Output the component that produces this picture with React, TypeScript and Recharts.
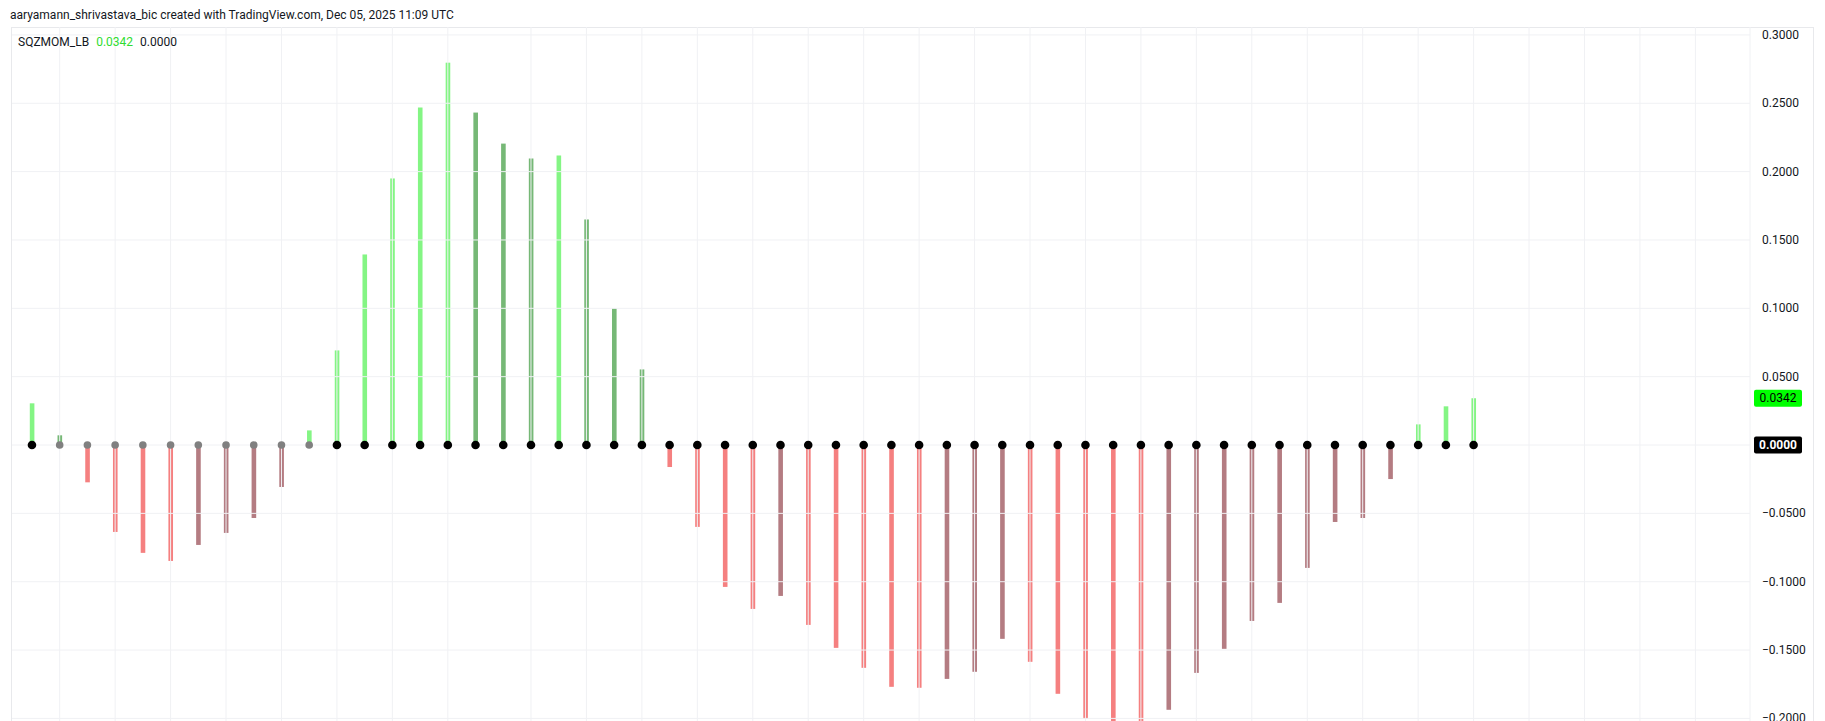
import React from "react";
import { ComposedChart, Bar, Line, XAxis, YAxis, ReferenceLine } from "recharts";

// ---- data ----
const momentum: number[] = [
  0.0305, 0.0071, -0.0273, -0.0636, -0.0789, -0.0848, -0.0731, -0.0643, -0.0534, -0.0307,
  0.0107, 0.0692, 0.1394, 0.195, 0.2469, 0.2797, 0.2432, 0.2205, 0.2096, 0.2118,
  0.165, 0.0999, 0.0553, -0.0161, -0.0599, -0.1038, -0.1199, -0.1104, -0.1316, -0.1484,
  -0.163, -0.1769, -0.1776, -0.1711, -0.1659, -0.1418, -0.1586, -0.182, -0.2003, -0.206,
  -0.211, -0.1937, -0.1667, -0.1491, -0.1287, -0.1155, -0.0899, -0.0563, -0.0534, -0.0249,
  0.0151, 0.0283, 0.0342,
];
// squeeze state per bar: "on" = black dot, "off" = gray dot
const squeeze: string[] = [
  "on", "off", "off", "off", "off", "off", "off", "off", "off", "off",
  "off", "on", "on", "on", "on", "on", "on", "on", "on", "on",
  "on", "on", "on", "on", "on", "on", "on", "on", "on", "on",
  "on", "on", "on", "on", "on", "on", "on", "on", "on", "on",
  "on", "on", "on", "on", "on", "on", "on", "on", "on", "on",
  "on", "on", "on",
];
const yTicks: number[] = [0.3, 0.25, 0.2, 0.15, 0.1, 0.05, -0.05, -0.1, -0.15, -0.2];
const hGrid: number[] = [0.3, 0.25, 0.2, 0.15, 0.1, 0.05, 0, -0.05, -0.1, -0.15, -0.2];
const vGrid: number[] = [1, 3, 5, 7, 9, 11, 13, 15, 18, 20, 22, 24, 26, 28, 30, 32, 34, 36, 38, 40, 42, 44, 46, 48, 50, 52, 54, 56, 58, 60];
const headerText = "aaryamann_shrivastava_bic created with TradingView.com, Dec 05, 2025 11:09 UTC";
const indicatorName = "SQZMOM_LB";

// ---- styles ----
const COLORS = { lime: "#84f584", green: "#76b876", red: "#f58080", maroon: "#b47c82" };
const GRID = "#f0f1f4";
const FONT = "Roboto, 'Liberation Sans', sans-serif";
const TEXT = "#131722";
const BAR_W = 4.6;

const data = momentum.map((v, i) => {
  const prev = i > 0 ? momentum[i - 1] : 0;
  let color: string;
  if (v > 0) color = v > prev ? COLORS.lime : COLORS.green;
  else color = v < prev ? COLORS.red : COLORS.maroon;
  return { i, v, zero: 0, color, sqz: squeeze[i] };
});

const fmt = (n: number) => {
  const s = Math.abs(n).toFixed(4);
  return n < 0 ? "\u2212" + s : s;
};

const YTick = (props: any) => {
  const { x, y, payload } = props;
  return (
    <text x={x} y={y} dy={4} textAnchor="start" fontSize={12} fontFamily={FONT} fill={TEXT}>
      {fmt(payload.value)}
    </text>
  );
};

const makeBox = (bg: string, fg: string, txt: string, bold: boolean) => (props: any) => {
  const vb = props.viewBox || {};
  const x = (vb.x || 0) + (vb.width || 0) + 4;
  const y = vb.y || 0;
  return (
    <g>
      <rect x={x} y={y - 8.5} width={48} height={17} rx={2} fill={bg} />
      <text x={x + 24} y={y + 4} textAnchor="middle" fontSize={12} fontFamily={FONT} fill={fg} fontWeight={bold ? 700 : 400}>
        {txt}
      </text>
    </g>
  );
};

// one solid column per bar, coloured from the payload, centred on the library-computed bar
const BarShape = (p: any) => {
  const { x, y, width, height, payload } = p;
  if (x == null || y == null || height == null || !payload) return null;
  const left = x + width / 2 - BAR_W / 2;
  const top = Math.min(y, y + height);
  return <rect x={left} y={top} width={BAR_W} height={Math.abs(height)} fill={payload.color} stroke="none" />;
};

const renderDot = (p: any) => {
  const { cx, cy, payload, index } = p;
  if (cx == null || cy == null) return <g key={"d" + index} />;
  const on = payload.sqz === "on";
  return <circle key={"d" + index} cx={cx} cy={cy} r={on ? 4.3 : 3.8} fill={on ? "#000000" : "#808080"} />;
};

const last = momentum[momentum.length - 1];

export default function App() {
  return (
    <div style={{ position: "absolute", left: 0, top: 0, width: 1825, height: 721, background: "#fff", overflow: "hidden", fontFamily: FONT }}>
      <div style={{ position: "absolute", left: 10, top: 7, fontSize: 12, lineHeight: "16px", color: TEXT, whiteSpace: "nowrap" }}>
        {headerText}
      </div>
      <div style={{ position: "absolute", left: 11, top: 27, width: 1803, height: 720, border: "1px solid #e8e9ec", boxSizing: "border-box" }} />
      <ComposedChart
        width={1825}
        height={721}
        data={data}
        margin={{ top: 27, right: 10, bottom: 0, left: 12 }}
        style={{ position: "absolute", left: 0, top: 0 }}
      >
        <XAxis type="number" dataKey="i" domain={[-0.72, 61.97]} hide allowDataOverflow />
        <YAxis
          orientation="right"
          width={65}
          domain={[-0.2019, 0.3058]}
          allowDataOverflow
          ticks={yTicks}
          interval={0}
          tick={<YTick />}
          tickSize={0}
          tickMargin={12}
          tickLine={false}
          axisLine={{ stroke: GRID }}
        />
        {hGrid.map((g) => (
          <ReferenceLine key={"h" + g} y={g} stroke={GRID} strokeWidth={1} />
        ))}
        {vGrid.map((g) => (
          <ReferenceLine key={"v" + g} x={g} stroke={GRID} strokeWidth={1} />
        ))}
        <Bar dataKey="v" barSize={4} isAnimationActive={false} shape={<BarShape />} />
        <Line dataKey="zero" stroke="none" dot={renderDot} activeDot={false} isAnimationActive={false} />
        <ReferenceLine y={last} stroke="none" label={makeBox("#00ff00", "#000000", fmt(last), false)} />
        <ReferenceLine y={0} stroke="none" label={makeBox("#000000", "#ffffff", fmt(0), true)} />
      </ComposedChart>
      <div style={{ position: "absolute", left: 18, top: 34, fontSize: 12, lineHeight: "16px", color: TEXT, whiteSpace: "nowrap" }}>
        <span>{indicatorName}</span>
        <span style={{ color: "#2fdc2f", marginLeft: 7 }}>{fmt(last)}</span>
        <span style={{ marginLeft: 7 }}>{fmt(0)}</span>
      </div>
    </div>
  );
}
